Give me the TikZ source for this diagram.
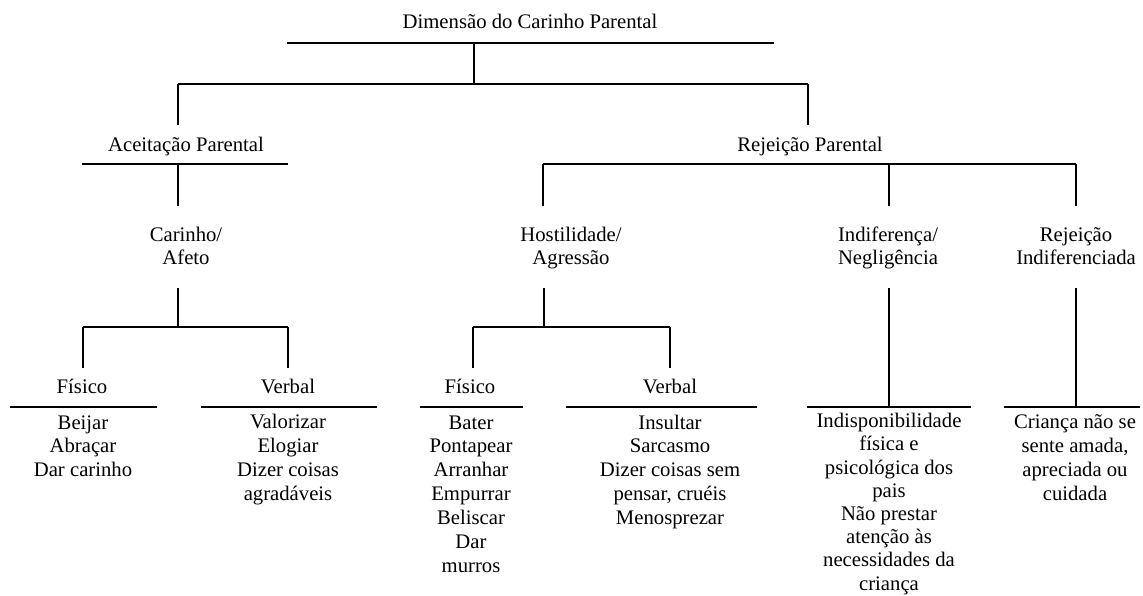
\documentclass[tikz,border=0pt]{standalone}
\usepackage{fontspec}
\setmainfont{Liberation Serif}
\usepackage{tikz}
\usetikzlibrary{calc}

\begin{document}
\begin{tikzpicture}[x=1pt,y=-1pt,line width=1.2pt,
  lbl/.style={font=\fontsize{20.7}{23.85}\selectfont,align=center,inner sep=0pt,anchor=base}]
  \useasboundingbox (0,0) rectangle (1143,596);
  % labels (base = baseline of the last line)
  \node[lbl] (dim) at (530,29) {Dimensão do Carinho Parental};
  \node[lbl] (acp) at (186,152) {Aceitação Parental};
  \node[lbl] (rjp) at (810,152) {Rejeição Parental};
  \node[lbl] (car) at (186,265) {Carinho/\\Afeto};
  \node[lbl] (hos) at (571,265) {Hostilidade/\\Agressão};
  \node[lbl] (ind) at (888,265) {Indiferença/\\Negligência};
  \node[lbl] (rin) at (1076,265) {Rejeição\\Indiferenciada};
  \node[lbl] (fisA) at (82,393) {Físico};
  \node[lbl] (verA) at (288,393) {Verbal};
  \node[lbl] (fisH) at (470,393) {Físico};
  \node[lbl] (verH) at (670,393) {Verbal};
  % lists
  \node[lbl] (lfisA) at (83,476.7) {Beijar\\Abraçar\\Dar carinho};
  \node[lbl] (lverA) at (288,500.5) {Valorizar\\Elogiar\\Dizer coisas\\agradáveis};
  \node[lbl] (lfisH) at (471,572.1) {Bater\\Pontapear\\Arranhar\\Empurrar\\Beliscar\\Dar\\murros};
  \node[lbl] (lverH) at (670,524.4) {Insultar\\Sarcasmo\\Dizer coisas sem\\pensar, cruéis\\Menosprezar};
  \node[lbl,font=\fontsize{20.7}{23.2}\selectfont] (lind) at (889,590) {Indisponibilidade\\física e\\psicológica dos\\pais\\Não prestar\\atenção às\\necessidades da\\criança};
  \node[lbl] (lrin) at (1075,500.5) {Criança não se\\sente amada,\\apreciada ou\\cuidada};
  % rules under the labels
  \foreach \a/\b/\y in {287/774/43, 82/288/164, 10/157/407, 201/377/407,
                        420/523/407, 566/757/407, 807/971/407, 1004/1140/407}
    \draw (\a,\y) -- (\b,\y);
  % rows where the connectors end
  \coordinate (lv1) at (0,84);
  \coordinate (lv2) at (0,125);
  \coordinate (lv4) at (0,206);
  \coordinate (lv6) at (0,327);
  \coordinate (lv7) at (0,368);
  \coordinate (lv8) at (0,407);
  % junctions
  \coordinate (j0) at (474,43);
  \coordinate (j1) at (178,84);  \coordinate (j2) at (808,84);
  \coordinate (j3) at (178,164);
  \coordinate (j4) at (543,164); \coordinate (j5) at (889,164); \coordinate (j6) at (1076,164);
  \coordinate (j7) at (178,288); \coordinate (j8) at (544,288);
  \coordinate (j9) at (83,327);  \coordinate (j10) at (288,327);
  \coordinate (j11) at (473,327); \coordinate (j12) at (670,327);
  \coordinate (j13) at (889,288); \coordinate (j14) at (1076,288);
  % connectors
  \draw (j0) -- (j0 |- lv1);
  \draw (j1) -- (j2);
  \draw (j1) -- (j1 |- lv2); \draw (j2) -- (j2 |- lv2);
  \draw (j3) -- (j3 |- lv4);
  \draw (j4) -- (j6);
  \foreach \j in {j4,j5,j6} \draw (\j) -- (\j |- lv4);
  \draw (j7) -- (j7 |- lv6); \draw (j8) -- (j8 |- lv6);
  \draw (j9) -- (j10); \draw (j11) -- (j12);
  \foreach \j in {j9,j10,j11,j12} \draw (\j) -- (\j |- lv7);
  \draw (j13) -- (j13 |- lv8); \draw (j14) -- (j14 |- lv8);
\end{tikzpicture}
\end{document}
